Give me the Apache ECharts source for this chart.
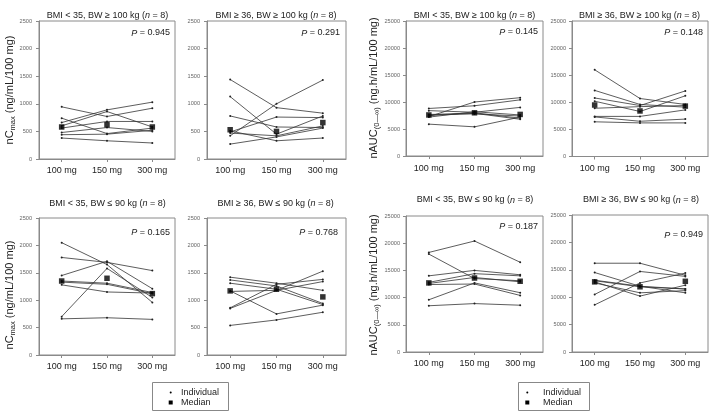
<!DOCTYPE html>
<html><head><meta charset="utf-8">
<script src="https://cdn.jsdelivr.net/npm/echarts@6/dist/echarts.min.js"></script>
<style>html,body{margin:0;padding:0;background:#fff}#c{width:709px;height:412px}</style>
</head><body><div id="c"></div>
<script>
// ---------- DATA ----------
const categories = ['100 mg', '150 mg', '300 mg'];
const cmaxAxis = { min: 0, max: 2500, interval: 500 };
const aucAxis = { min: 0, max: 25000, interval: 5000 };

const groupLabels = ['BMI < 35, BW ≥ 100 kg', 'BMI ≥ 36, BW ≥ 100 kg', 'BMI < 35, BW ≤ 90 kg', 'BMI ≥ 36, BW ≤ 90 kg'];
const groupN = [8, 8, 8, 8];
const pValues = ['0.945', '0.291', '0.145', '0.148', '0.165', '0.768', '0.187', '0.949'];

// nCmax, BMI < 35, BW >= 100 kg
const cmaxLt35Bw100 = [
  [945, 770, 920], [740, 460, 560], [660, 890, 1030], [600, 860, 580],
  [560, 680, 680], [480, 570, 500], [440, 450, 520], [380, 330, 290]
];
const cmaxLt35Bw100Median = [580, 620, 580];

// nCmax, BMI >= 36, BW >= 100 kg
const cmaxGe36Bw100 = [
  [1440, 930, 830], [1130, 450, 780], [780, 580, 570], [490, 760, 750],
  [420, 1000, 1430], [470, 420, 600], [270, 400, 560], [510, 330, 380]
];
const cmaxGe36Bw100Median = [530, 500, 660];

// nAUC, BMI < 35, BW >= 100 kg
const aucLt35Bw100 = [
  [8800, 9300, 10400], [7300, 10000, 10800], [8400, 8100, 9000], [7600, 8000, 7000],
  [7500, 7900, 6800], [7200, 8200, 7600], [7700, 7800, 7400], [5900, 5400, 7200]
];
const aucLt35Bw100Median = [7600, 8000, 7700];

// nAUC, BMI >= 36, BW >= 100 kg
const aucGe36Bw100 = [
  [16000, 10700, 9600], [12200, 9600, 9100], [10800, 9400, 12100], [10200, 8300, 11200],
  [8900, 9200, 9400], [7400, 7400, 8600], [7300, 6500, 6900], [6400, 6200, 6200]
];
const aucGe36Bw100Median = [9500, 8400, 9300];

// nCmax, BMI < 35, BW <= 90 kg
const cmaxLt35Bw90 = [
  [2050, 1650, 960], [1780, 1690, 1540], [1450, 1710, 1210], [700, 1580, 1050],
  [1350, 1310, 1140], [1330, 1290, 1120], [1280, 1150, 1130], [660, 680, 650]
];
const cmaxLt35Bw90Median = [1350, 1400, 1120];

// nCmax, BMI >= 36, BW <= 90 kg
const cmaxGe36Bw90 = [
  [1420, 1310, 1180], [1370, 1260, 940], [1310, 1200, 920], [1160, 1180, 1340],
  [860, 1290, 1380], [850, 1180, 1530], [1170, 750, 910], [540, 640, 780]
];
const cmaxGe36Bw90Median = [1170, 1200, 1060];

// nAUC, BMI < 35, BW <= 90 kg
const aucLt35Bw90 = [
  [18300, 20400, 16500], [18000, 13500, 13100], [14000, 15000, 14200], [12800, 14400, 14000],
  [12600, 13700, 12900], [12400, 12500, 10400], [9600, 12700, 10900], [8500, 8900, 8600]
];
const aucLt35Bw90Median = [12700, 13600, 13000];

// nAUC, BMI >= 36, BW <= 90 kg
const aucGe36Bw90 = [
  [16200, 16200, 14000], [14500, 12000, 11500], [13100, 12000, 10800], [12600, 10800, 11200],
  [12800, 10200, 12200], [10500, 14700, 13800], [8600, 12600, 14400], [13000, 11900, 11500]
];
const aucGe36Bw90Median = [12800, 11900, 12900];

// ---------- LAYOUT ----------
const FONT = '"Liberation Sans", Arial, Helvetica, sans-serif';
const panels = [
  { ind: cmaxLt35Bw100, med: cmaxLt35Bw100Median, axis: cmaxAxis, g: 0, p: 0, box: [39, 21, 136, 138], t: [107.5, 15.7], pp: [170, 33], lm: 7 },
  { ind: cmaxGe36Bw100, med: cmaxGe36Bw100Median, axis: cmaxAxis, g: 1, p: 1, box: [207, 21, 139, 138], t: [276, 15.7], pp: [340, 33], lm: 7 },
  { ind: aucLt35Bw100, med: aucLt35Bw100Median, axis: aucAxis, g: 0, p: 2, box: [406, 21, 137, 135], t: [474.5, 15.7], pp: [538, 32], lm: 8 },
  { ind: aucGe36Bw100, med: aucGe36Bw100Median, axis: aucAxis, g: 1, p: 3, box: [572, 21, 136, 135.5], t: [639.5, 15.7], pp: [703, 32.5], lm: 8 },
  { ind: cmaxLt35Bw90, med: cmaxLt35Bw90Median, axis: cmaxAxis, g: 2, p: 4, box: [39, 218, 136, 137], t: [107.5, 203.3], pp: [170, 232.3], lm: 7 },
  { ind: cmaxGe36Bw90, med: cmaxGe36Bw90Median, axis: cmaxAxis, g: 3, p: 5, box: [207, 218, 139, 137], t: [275.7, 203.3], pp: [338, 232.3], lm: 7 },
  { ind: aucLt35Bw90, med: aucLt35Bw90Median, axis: aucAxis, g: 2, p: 6, box: [406, 216, 137, 136], t: [475, 200], pp: [538, 226.7], lm: 7 },
  { ind: aucGe36Bw90, med: aucGe36Bw90Median, axis: aucAxis, g: 3, p: 7, box: [572, 215, 136, 137], t: [641, 200], pp: [703, 235], lm: 7 }
];

const grid = [], xAxis = [], yAxis = [], series = [], graphic = [];
const AX = '#8a8a8a';

panels.forEach((pn, i) => {
  const [l, t, w, h] = pn.box;
  grid.push({ left: l, top: t, width: w, height: h, show: true, borderColor: AX, borderWidth: 1, backgroundColor: 'transparent' });
  xAxis.push({
    type: 'category', gridIndex: i, data: categories, boundaryGap: true,
    axisLine: { show: true, lineStyle: { color: AX, width: 1 } },
    axisTick: { show: true, alignWithLabel: true, length: 3, lineStyle: { color: AX } },
    axisLabel: { fontSize: 9, color: '#222', fontFamily: FONT, margin: pn.lm },
    splitLine: { show: false }
  });
  yAxis.push({
    type: 'value', gridIndex: i, min: pn.axis.min, max: pn.axis.max, interval: pn.axis.interval,
    axisLine: { show: true, lineStyle: { color: AX, width: 1 } },
    axisTick: { show: true, length: 3, lineStyle: { color: AX } },
    axisLabel: { fontSize: 5.6, color: '#666', fontFamily: FONT, margin: pn.axis === aucAxis ? 6 : 7, formatter: v => String(v) },
    splitLine: { show: false }
  });
  pn.ind.forEach((row) => {
    series.push({
      type: 'line', name: 'Individual', xAxisIndex: i, yAxisIndex: i, data: row,
      symbol: 'circle', symbolSize: 2, showSymbol: true,
      lineStyle: { color: '#333', width: 0.8 }, itemStyle: { color: '#222' },
      silent: true, animation: false, z: 2
    });
  });
  series.push({
    type: 'scatter', name: 'Median', xAxisIndex: i, yAxisIndex: i, data: pn.med,
    symbol: 'rect', symbolSize: 5.5, itemStyle: { color: '#000' }, silent: true, animation: false, z: 5
  });
  graphic.push({
    type: 'text', x: pn.t[0], y: pn.t[1], silent: true,
    style: {
      text: '{a|' + groupLabels[pn.g] + ' (}{i|n}{a| = ' + groupN[pn.g] + ')}',
      rich: {
        a: { fontSize: 9, fontFamily: FONT, fill: '#222' },
        i: { fontSize: 9, fontFamily: FONT, fill: '#222', fontStyle: 'italic' }
      },
      align: 'center', verticalAlign: 'middle', textAlign: 'center', textVerticalAlign: 'middle'
    }
  });
  graphic.push({
    type: 'text', x: pn.pp[0], y: pn.pp[1], silent: true,
    style: {
      text: '{i|P}{a| = ' + pValues[pn.p] + '}',
      rich: {
        a: { fontSize: 9, fontFamily: FONT, fill: '#222' },
        i: { fontSize: 9, fontFamily: FONT, fill: '#222', fontStyle: 'italic' }
      },
      align: 'right', verticalAlign: 'middle', textAlign: 'right', textVerticalAlign: 'middle'
    }
  });
});

const yTitleRich = {
  a: { fontSize: 11, fontFamily: FONT, fill: '#222', lineHeight: 14 },
  s: { fontSize: 7.5, fontFamily: FONT, fill: '#222', lineHeight: 8, verticalAlign: 'bottom' }
};
const cmaxTitle = '{a|nC}{s|max}{a| (ng/mL/100 mg)}';
const aucTitle = '{a|nAUC}{s|(0—∞)}{a| (ng.h/mL/100 mg)}';
[[10, 90, cmaxTitle], [10, 295, cmaxTitle], [374, 88, aucTitle], [374, 285, aucTitle]].forEach(([x, y, txt]) => {
  graphic.push({
    type: 'text', x: x, y: y, rotation: Math.PI / 2, silent: true,
    style: { text: txt, rich: yTitleRich, align: 'center', verticalAlign: 'middle', textAlign: 'center', textVerticalAlign: 'middle' }
  });
});

[[152, 228, 170.7, 181], [518, 589, 527.3, 543]].forEach(([x0, x1, mx, tx]) => {
  graphic.push({ type: 'rect', silent: true, shape: { x: x0 + 0.5, y: 382.5, width: x1 - x0, height: 28 }, style: { fill: '#fff', stroke: '#888', lineWidth: 1 } });
  graphic.push({ type: 'circle', silent: true, shape: { cx: mx, cy: 392.5, r: 1 }, style: { fill: '#000' } });
  graphic.push({ type: 'rect', silent: true, shape: { x: mx - 2, y: 400.5, width: 4, height: 4 }, style: { fill: '#000' } });
  graphic.push({ type: 'text', silent: true, x: tx, y: 392.5, style: { text: 'Individual', fontSize: 9, fontFamily: FONT, fill: '#222', align: 'left', verticalAlign: 'middle', textAlign: 'left', textVerticalAlign: 'middle' } });
  graphic.push({ type: 'text', silent: true, x: tx, y: 402.5, style: { text: 'Median', fontSize: 9, fontFamily: FONT, fill: '#222', align: 'left', verticalAlign: 'middle', textAlign: 'left', textVerticalAlign: 'middle' } });
});

const chart = echarts.init(document.getElementById('c'), null, { renderer: 'canvas' });
chart.setOption({
  animation: false,
  backgroundColor: '#fff',
  textStyle: { fontFamily: FONT },
  grid, xAxis, yAxis, series, graphic
});
</script></body></html>
